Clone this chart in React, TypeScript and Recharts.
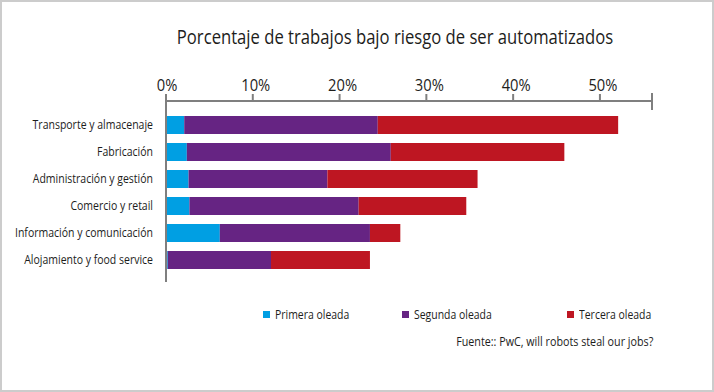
import React from 'react';
import { BarChart, Bar, XAxis, YAxis, Legend } from 'recharts';

const categories = [
  'Transporte y almacenaje',
  'Fabricación',
  'Administración y gestión',
  'Comercio y retail',
  'Información y comunicación',
  'Alojamiento y food service',
];
const primera = [2.1, 2.4, 2.6, 2.7, 6.2, 0.2];
const segunda = [22.3, 23.5, 16.0, 19.5, 17.3, 11.9];
const tercera = [27.7, 20.0, 17.3, 12.4, 3.5, 11.4];
const seriesNames = ['Primera oleada', 'Segunda oleada', 'Tercera oleada'];
const seriesColors = ['#009fe3', '#662483', '#be1622'];
const xTicks = [0, 10, 20, 30, 40, 50, 56];
const xMax = 56;
const title = 'Porcentaje de trabajos bajo riesgo de ser automatizados';
const source = 'Fuente:: PwC, will robots steal our jobs?';

const data = categories.map((name, i) => ({
  name,
  primera: primera[i],
  segunda: segunda[i],
  tercera: tercera[i],
}));

const FONT = '"Open Sans", sans-serif';
const TEXT = '#1d1d1b';
const AXIS = '#7f7f7f';

const XTick = (props: any) => {
  const { x, y, payload } = props;
  const v = payload.value;
  if (v === xMax) {
    const ay = y + 3 + 7;
    return <line x1={x} x2={x} y1={ay - 8} y2={ay + 9} stroke={AXIS} strokeWidth={2} />;
  }
  const shift = v === 0 ? 1 : 3;
  return (
    <text
      x={0}
      y={0}
      transform={`translate(${x + shift},${y}) scale(0.92,1)`}
      textAnchor="middle"
      fontSize={16}
      fill={TEXT}
      fontFamily={FONT}
    >
      {v}%
    </text>
  );
};

const YTick = (props: any) => {
  const { x, y, payload } = props;
  return (
    <text
      x={0}
      y={0}
      dy={4}
      transform={`translate(${x},${y}) scale(0.875,1)`}
      textAnchor="end"
      fontSize={12}
      fill={TEXT}
      fontFamily={FONT}
    >
      {payload.value}
    </text>
  );
};

const legendX = [263, 402, 567];

const renderLegend = (props: any) => {
  const { payload } = props;
  return (
    <div style={{ position: 'relative', width: 714, height: 16 }}>
      {(payload || []).map((p: any, i: number) => (
        <div
          key={i}
          style={{
            position: 'absolute',
            left: legendX[i],
            top: 0,
            height: 16,
            display: 'flex',
            alignItems: 'center',
            fontSize: 12,
            fontFamily: FONT,
            color: TEXT,
            whiteSpace: 'nowrap',
          }}
        >
          <span style={{ display: 'inline-block', width: 7, height: 7, background: p.color, marginRight: 5 }} />
          <span style={{ display: 'inline-block', transform: 'scaleX(0.87)', transformOrigin: 'left center' }}>
            {p.value}
          </span>
        </div>
      ))}
    </div>
  );
};

export default function App() {
  return (
    <div
      style={{
        position: 'fixed',
        left: 0,
        top: 0,
        width: 714,
        height: 392,
        boxSizing: 'border-box',
        border: '2px solid #cccccc',
        background: '#ffffff',
        overflow: 'hidden',
      }}
    >
      <div style={{ position: 'absolute', left: -2, top: -2 }}>
        <BarChart
          width={714}
          height={392}
          data={data}
          layout="vertical"
          margin={{ top: 60, right: 62, left: 0, bottom: 110 }}
        >
          <XAxis
            type="number"
            orientation="top"
            domain={[0, xMax]}
            ticks={xTicks}
            interval={0}
            height={41}
            axisLine={{ stroke: AXIS, strokeWidth: 2 }}
            tickLine={{ stroke: AXIS, strokeWidth: 2 }}
            tickSize={7}
            tickMargin={3}
            tick={<XTick />}
          />
          <YAxis
            type="category"
            dataKey="name"
            width={166}
            axisLine={{ stroke: AXIS, strokeWidth: 2 }}
            tickLine={false}
            tickSize={0}
            tickMargin={13}
            padding={{ top: 10, bottom: 9 }}
            interval={0}
            tick={<YTick />}
          />
          <Legend
            layout="horizontal"
            verticalAlign="middle"
            align="center"
            wrapperStyle={{ top: 306, left: 0, width: 714 }}
            content={renderLegend}
          />
          <Bar dataKey="primera" name={seriesNames[0]} stackId="a" fill={seriesColors[0]} barSize={18} isAnimationActive={false} />
          <Bar dataKey="segunda" name={seriesNames[1]} stackId="a" fill={seriesColors[1]} barSize={18} isAnimationActive={false} />
          <Bar dataKey="tercera" name={seriesNames[2]} stackId="a" fill={seriesColors[2]} barSize={18} isAnimationActive={false} />
        </BarChart>
        <div
          style={{
            position: 'absolute',
            left: 0,
            top: 25,
            width: 790,
            textAlign: 'center',
            fontSize: 20,
            fontFamily: FONT,
            color: TEXT,
            lineHeight: '24px',
            whiteSpace: 'nowrap',
            transform: 'scaleX(0.832)',
            transformOrigin: '395px 50%',
          }}
        >
          {title}
        </div>
        <div
          style={{
            position: 'absolute',
            right: 714 - 653,
            top: 334,
            fontSize: 12,
            fontFamily: FONT,
            color: TEXT,
            lineHeight: '16px',
            whiteSpace: 'nowrap',
            transform: 'scaleX(0.895)',
            transformOrigin: 'right center',
          }}
        >
          {source}
        </div>
      </div>
    </div>
  );
}
